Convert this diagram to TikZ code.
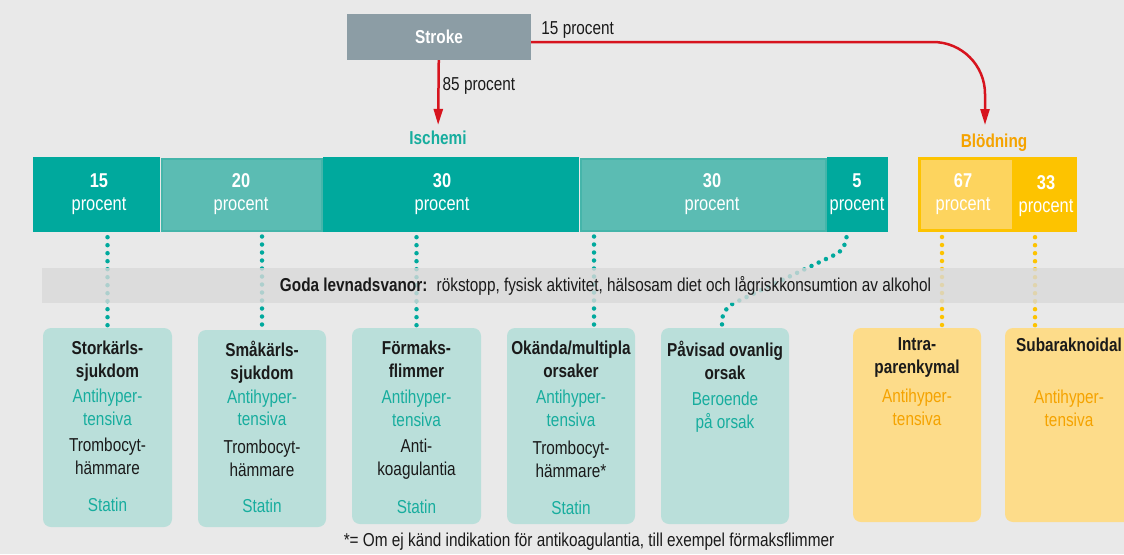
\documentclass[tikz,border=0pt]{standalone}
\usepackage{fontspec}
\setmainfont{Liberation Sans}[FakeStretch=0.82]
\usetikzlibrary{positioning,arrows.meta}

\definecolor{bggray}{HTML}{E9E9E9}
\definecolor{strokegray}{HTML}{8C9DA5}
\definecolor{arrowred}{HTML}{D7141E}
\definecolor{ischteal}{HTML}{00A99D}
\definecolor{ischlight}{HTML}{5BBCB3}
\definecolor{ischmid}{HTML}{45B5AA}
\definecolor{ischbox}{HTML}{BADFDA}
\definecolor{drugteal}{HTML}{17AD9E}
\definecolor{bleedyellow}{HTML}{FDC300}
\definecolor{bleedlight}{HTML}{FDD45E}
\definecolor{bleedbox}{HTML}{FDDC8A}
\definecolor{drugorange}{HTML}{F5A300}
\definecolor{bandgray}{HTML}{D9D9D9}
\definecolor{inkblack}{HTML}{1A1A1A}

\newcommand{\bodysize}{\fontsize{18.7}{23}\selectfont}
\newcommand{\drug}[1]{\textcolor{drugteal}{#1}}
\newcommand{\drugy}[1]{\textcolor{drugorange}{#1}}

\tikzset{
  redarrow/.style={draw=arrowred, line width=2.5pt, -{Triangle[length=16pt,width=9pt]}},
  seg/.style={rectangle, fill=ischteal, inner sep=0pt, minimum height=75pt},
  seglight/.style={seg, fill=ischlight, draw=ischmid, line width=2pt, minimum height=72pt},
  segy/.style={seg, fill=bleedyellow},
  segylight/.style={seg, fill=bleedlight, draw=bleedyellow, line width=3pt, minimum height=72pt},
  segtxt/.style={align=center, text=white, inner sep=0pt, font=\fontsize{20}{23}\selectfont},
  ibox/.style={rectangle, rounded corners=8pt, fill=ischbox, minimum width=128pt, minimum height=196pt, inner sep=0pt},
  hbox/.style={ibox, fill=bleedbox, minimum height=194pt},
  boxtxt/.style={align=center, inner sep=0pt, text=inkblack, font=\bodysize},
  tdots/.style={draw=ischteal, line width=4.5pt, line cap=round, dash pattern=on 0pt off 8pt, shorten <=5pt},
  ydots/.style={tdots, draw=bleedyellow},
}

\begin{document}
\begin{tikzpicture}[x=1pt, y=-1pt, font=\bodysize, text=inkblack]
\useasboundingbox (0,0) rectangle (1124,554);
\fill[bggray] (0,0) rectangle (1124,554);

% stroke and the two branches
\node[fill=strokegray, minimum width=184pt, minimum height=46pt, text=white, font=\bodysize\bfseries] (stroke) at (439,37) {Stroke};
\node[font=\bodysize\bfseries, text=drugteal, inner sep=6pt] (isch) at (438,138) {Ischemi};
\node[font=\bodysize\bfseries, text=drugorange] (bleedlabel) at (994,143) {Blödning};
\coordinate (bleed) at (985,125);
\draw[redarrow] (stroke) -- node[right, inner sep=3pt, yshift=7pt] {85 procent} (isch);
\draw[redarrow, rounded corners=52pt] ([yshift=-5pt]stroke.east) node[anchor=south west, inner sep=2pt, xshift=7pt] {15 procent} -| (bleed);

% ischemi bar
\node[seg, minimum width=127pt] (s1) at (96.5,194.5) {};
\node[seg, minimum width=256pt] (s3) at (451,194.5) {};
\node[seg, minimum width=61pt] (s5) at (857.5,194.5) {};
\node[seglight, minimum width=160pt] (s2) at (241.5,194.5) {};
\node[seglight, minimum width=245pt] (s4) at (703,194.5) {};
% blodning bar
\node[segylight, minimum width=94pt] (y1) at (966.5,194.5) {};
\node[segy, minimum width=62pt] (y2) at (1046,194.5) {};

\foreach \x/\n in {99/15, 241/20, 442/30, 712/30, 857/5, 963/67}
  \node[segtxt] (pct\x) at (\x,194.5) {\textbf{\n}\\procent};
\node[segtxt] (pct1046) at (1046,196.5) {\textbf{33}\\procent};

% boxes
\node[ibox, minimum width=129pt, minimum height=199pt] (b1) at (107.5,427.5) {};
\node[ibox, minimum height=197pt] (b2) at (262,428.5) {};
\node[ibox, minimum width=129pt] (b3) at (416.5,426) {};
\node[ibox] (b4) at (571,426) {};
\node[ibox] (b5) at (725,426) {};
\node[hbox] (b6) at (917,425) {};
\node[hbox] (b7) at (1069,425) {};

\node[boxtxt, below=13pt of b1.north] (b1txt) {\textbf{Storkärls-}\\\textbf{sjukdom}\\[2pt]\drug{Antihyper-}\\\drug{tensiva}\\[3pt]Trombocyt-\\hämmare\\[14pt]\drug{Statin}};
\node[boxtxt, below=11pt of b2.north] (b2txt) {\textbf{Småkärls-}\\\textbf{sjukdom}\\[1pt]\drug{Antihyper-}\\[-1pt]\drug{tensiva}\\[5pt]Trombocyt-\\hämmare\\[13pt]\drug{Statin}};
\node[boxtxt, below=13pt of b3.north] (b3txt) {\textbf{Förmaks-}\\\textbf{flimmer}\\[3pt]\drug{Antihyper-}\\\drug{tensiva}\\[3pt]Anti-\\koagulantia\\[15pt]\drug{Statin}};
\node[boxtxt, below=13pt of b4.north] (b4txt) {\textbf{Okända/multipla}\\\textbf{orsaker}\\[3pt]\drug{Antihyper-}\\\drug{tensiva}\\[5pt]Trombocyt-\\hämmare*\\[14pt]\drug{Statin}};
\node[boxtxt, below=13pt of b5.north] (b5txt) {\textbf{Påvisad ovanlig}\\\textbf{orsak}\\[3pt]\drug{Beroende}\\\drug{på orsak}};
\node[boxtxt, below=10pt of b6.north] (b6txt) {\textbf{Intra-}\\\textbf{parenkymal}\\[6pt]\drugy{Antihyper-}\\\drugy{tensiva}};
\node[boxtxt, below=10pt of b7.north] (b7txt) {\textbf{Subaraknoidal}\\[29pt]\drugy{Antihyper-}\\\drugy{tensiva}};

% dotted links
\draw[tdots] (s1.south -| b1.north) -- (b1.north);
\draw[tdots] (s2.south -| b2.north) -- (b2.north);
\draw[tdots] (s3.south -| b3.north) -- (b3.north);
\draw[tdots] ([xshift=23pt]b4.north |- s4.south) -- ([xshift=23pt]b4.north);
\draw[tdots, rounded corners=12pt] ([xshift=-11pt]s5.south) -- ++(0,17) -- ([xshift=-3pt, yshift=19pt]b5.north) -- ([xshift=-3pt]b5.north);
\draw[ydots] ([xshift=25pt]b6.north |- y1.south) -- ([xshift=25pt]b6.north);
\draw[ydots] ([xshift=-34pt]b7.north |- y2.south) -- ([xshift=-34pt]b7.north);

% habits band
\node[fill=bandgray, fill opacity=0.8, text opacity=1, minimum width=1127pt, minimum height=35pt, inner sep=0pt] (band) at (605.5,285.5) {\textbf{Goda levnadsvanor:}\enspace rökstopp, fysisk aktivitet, hälsosam diet och lågriskkonsumtion av alkohol};

\node (note) at (589,542) {*= Om ej känd indikation för antikoagulantia, till exempel förmaksflimmer};
\end{tikzpicture}
\end{document}
